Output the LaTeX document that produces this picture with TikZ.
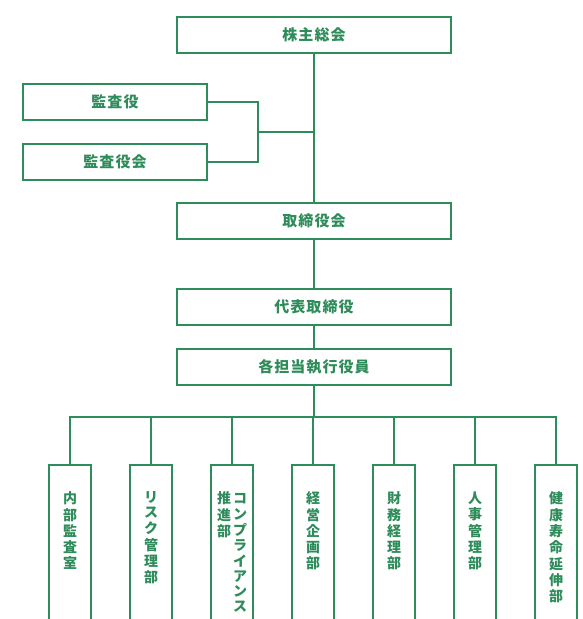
\documentclass[tikz,border=0pt]{standalone}
\usepackage{fontspec}
\newfontfamily\jpfont{Noto Sans CJK JP}
\newfontfamily\jpwide{Noto Sans CJK JP}[LetterSpace=7]
\usetikzlibrary{arrows,positioning}
\definecolor{orggreen}{RGB}{46,140,90}
\newcommand{\tate}[1]{\begin{tabular}[t]{@{}c@{}}#1\end{tabular}}
\newcommand{\deptext}[1]{\parbox[t][190pt][t]{40pt}{\centering\vspace*{27pt}#1}}
\tikzset{
	>=stealth',
}

\begin{document}
\begin{tikzpicture}[x=1pt,y=-1pt,
box/.style = {draw=orggreen, line width=1.8pt, fill=white, minimum width=274pt, minimum height=36pt, inner sep=0, text=orggreen, font=\jpwide\bfseries\fontsize{15}{17}\selectfont},
smallbox/.style = {box, minimum width=184pt},
dept/.style = {draw=orggreen, line width=1.8pt, minimum width=42pt, anchor=north, inner sep=0, text=orggreen, font=\jpfont\bfseries\fontsize{14}{14.4}\selectfont},
line/.style = {draw=orggreen, line width=1.8pt, line cap=rect},
every edge/.style = {line}]
\useasboundingbox (0,0) rectangle (582,619);
\clip (0,0) rectangle (582,619);
\node[box] (meeting) at (314,35) {株主総会};
\node[smallbox] (auditor) at (115,102) {監査役};
\node[smallbox] (auditboard) at (115,162) {監査役会};
\node[box] (board) at (314,221) {取締役会}
	edge[-] (meeting);
\node[box] (ceo) at (314,307) {代表取締役}
	edge[-] (board);
\node[box] (officers) at (314,367) {各担当執行役員}
	edge[-] (ceo);
\coordinate (auditjoin) at (258,132);
\draw[line] (auditor.east) -| (auditjoin) |- (auditboard.east);
\draw[line] (auditjoin) -- (auditjoin -| meeting.south);
\coordinate (bus) at (314,417);
\coordinate (busleft) at (70,417);
\coordinate (busright) at (556,417);
\draw[line] (busleft) -- (busright);
\draw[line] (officers) -- (bus);
\node[dept] (intaudit) at (70,464) {\deptext{\tate{内\\部\\監\\査\\室}}}
	edge[-] (intaudit |- bus);
\node[dept] (risk) at (151,464) {\deptext{\tate{リ\\ス\\ク\\管\\理\\部}}}
	edge[-] (risk |- bus);
\node[dept] (compliance) at (232,464) {\deptext{\tate{推\\進\\部}\hspace{2pt}\tate{コ\\ン\\プ\\ラ\\イ\\ア\\ン\\ス}}}
	edge[-] (compliance |- bus);
\node[dept] (planning) at (313,464) {\deptext{\tate{経\\営\\企\\画\\部}}}
	edge[-] (planning |- bus);
\node[dept] (finance) at (394,464) {\deptext{\tate{財\\務\\経\\理\\部}}}
	edge[-] (finance |- bus);
\node[dept] (personnel) at (475,464) {\deptext{\tate{人\\事\\管\\理\\部}}}
	edge[-] (personnel |- bus);
\node[dept] (health) at (556,464) {\deptext{\tate{健\\康\\寿\\命\\延\\伸\\部}}}
	edge[-] (health |- bus);
\end{tikzpicture}
\end{document}
